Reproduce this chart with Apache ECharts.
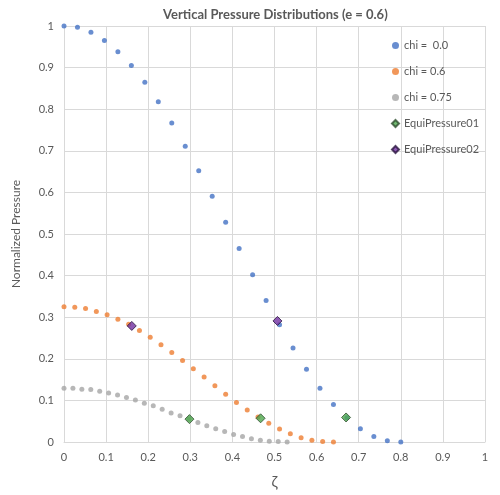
<!DOCTYPE html>
<html lang="en">
<head>
    <meta charset="UTF-8">
    <title>Vertical Pressure Distributions</title>
    <style>
        html, body { margin: 0; padding: 0; background: #fff; }
    </style>
</head>
<body>
<div id="main" style="width: 500px;height:495px;"></div>
<script type="text/javascript" src="https://cdn.jsdelivr.net/npm/echarts@6/dist/echarts.min.js"></script>
<script type="text/javascript">
    // chi = 0.0
    var zetaChi00 = [0, 0.032, 0.064, 0.096, 0.128, 0.16, 0.192, 0.224, 0.256, 0.288, 0.32, 0.352, 0.384,
        0.416, 0.448, 0.48, 0.512, 0.544, 0.576, 0.608, 0.64, 0.672, 0.704, 0.736, 0.768, 0.8];
    var pChi00 = [1.0, 0.997, 0.985, 0.965, 0.938, 0.905, 0.865, 0.818, 0.767, 0.711, 0.652, 0.591, 0.528,
        0.465, 0.402, 0.340, 0.282, 0.226, 0.175, 0.129, 0.090, 0.058, 0.032, 0.013, 0.003, 0.0];
    // chi = 0.6
    var zetaChi06 = [0, 0.0256, 0.0512, 0.0768, 0.1024, 0.128, 0.1536, 0.1792, 0.2048, 0.2304, 0.256, 0.2816, 0.3072,
        0.3328, 0.3584, 0.384, 0.4096, 0.4352, 0.4608, 0.4864, 0.512, 0.5376, 0.5632, 0.5888, 0.6144, 0.64];
    var pChi06 = [0.325, 0.324, 0.321, 0.314, 0.306, 0.295, 0.283, 0.268, 0.252, 0.234, 0.215, 0.196, 0.176,
        0.156, 0.135, 0.115, 0.095, 0.077, 0.060, 0.045, 0.031, 0.020, 0.010, 0.004, 0.001, 0.0];
    // chi = 0.75
    var zetaChi075 = [0, 0.0212, 0.0424, 0.0636, 0.0848, 0.106, 0.1272, 0.1484, 0.1696, 0.1908, 0.212, 0.2332, 0.2544,
        0.2756, 0.2968, 0.318, 0.3392, 0.3604, 0.3816, 0.4028, 0.424, 0.4452, 0.4664, 0.4876, 0.5088, 0.53];
    var pChi075 = [0.129, 0.129, 0.127, 0.126, 0.122, 0.118, 0.113, 0.107, 0.101, 0.093, 0.087, 0.079, 0.070,
        0.063, 0.055, 0.047, 0.039, 0.032, 0.025, 0.018, 0.013, 0.008, 0.004, 0.002, 0.001, 0.0];
    // equal pressure points
    var zetaEqui01 = [0.298, 0.467, 0.670];
    var pEqui01 = [0.055, 0.057, 0.059];
    var zetaEqui02 = [0.161, 0.507];
    var pEqui02 = [0.279, 0.291];

    var seriesNames = ['chi =  0.0', 'chi = 0.6', 'chi = 0.75', 'EquiPressure01', 'EquiPressure02'];

    function pairs(xs, ys) {
        return xs.map(function (x, i) { return [x, ys[i]]; });
    }

    var font = 'Lato, "Open Sans", sans-serif';
    var textGray = '#595959';
    var gridGray = '#D9D9D9';

    var myChart = echarts.init(document.getElementById('main'), null, {renderer: 'canvas'});
    var option = {
        backgroundColor: '#ffffff',
        animation: false,
        textStyle: {fontFamily: font},
        title: {
            text: 'Vertical Pressure Distributions (e = 0.6)',
            left: 158,
            top: 3,
            textStyle: {fontSize: 13, fontWeight: 'bold', color: textGray, fontFamily: font}
        },
        legend: {
            orient: 'vertical',
            left: 386,
            top: 35,
            itemGap: 15,
            itemWidth: 7,
            itemHeight: 7,
            textStyle: {fontSize: 11, color: textGray, fontFamily: font},
            data: [
                {name: seriesNames[0], icon: 'circle'},
                {name: seriesNames[1], icon: 'circle'},
                {name: seriesNames[2], icon: 'circle'},
                {name: seriesNames[3], icon: 'diamond'},
                {name: seriesNames[4], icon: 'diamond'}
            ]
        },
        grid: {left: 64, right: 15, top: 26, bottom: 49, containLabel: false},
        xAxis: {
            type: 'value',
            min: 0,
            max: 1,
            interval: 0.1,
            name: 'ζ',
            nameLocation: 'middle',
            nameGap: 33,
            nameTextStyle: {fontSize: 15, color: textGray, fontFamily: font},
            axisLine: {lineStyle: {color: gridGray}},
            axisTick: {show: false},
            axisLabel: {fontSize: 11, color: textGray, margin: 10},
            splitLine: {lineStyle: {color: gridGray}}
        },
        yAxis: {
            type: 'value',
            min: 0,
            max: 1,
            interval: 0.1,
            name: 'Normalized Pressure',
            nameLocation: 'middle',
            nameGap: 42,
            nameTextStyle: {fontSize: 12, color: textGray, fontFamily: font},
            axisLine: {show: true, lineStyle: {color: gridGray}},
            axisTick: {show: false},
            axisLabel: {fontSize: 11, color: textGray, margin: 10},
            splitLine: {lineStyle: {color: gridGray}}
        },
        series: [{
            name: seriesNames[0],
            type: 'scatter',
            symbol: 'circle',
            symbolSize: 5,
            itemStyle: {color: '#4472C4'},
            data: pairs(zetaChi00, pChi00)
        }, {
            name: seriesNames[1],
            type: 'scatter',
            symbol: 'circle',
            symbolSize: 5,
            itemStyle: {color: '#ED7D31'},
            data: pairs(zetaChi06, pChi06)
        }, {
            name: seriesNames[2],
            type: 'scatter',
            symbol: 'circle',
            symbolSize: 5,
            itemStyle: {color: '#A5A5A5'},
            data: pairs(zetaChi075, pChi075)
        }, {
            name: seriesNames[3],
            type: 'scatter',
            symbol: 'diamond',
            symbolSize: 9,
            itemStyle: {color: '#4EA84E', borderColor: '#2F4F2F', borderWidth: 1},
            data: pairs(zetaEqui01, pEqui01)
        }, {
            name: seriesNames[4],
            type: 'scatter',
            symbol: 'diamond',
            symbolSize: 9,
            itemStyle: {color: '#7030A0', borderColor: '#2A1540', borderWidth: 1},
            data: pairs(zetaEqui02, pEqui02)
        }]
    };
    myChart.setOption(option);
</script>
</body>
</html>
